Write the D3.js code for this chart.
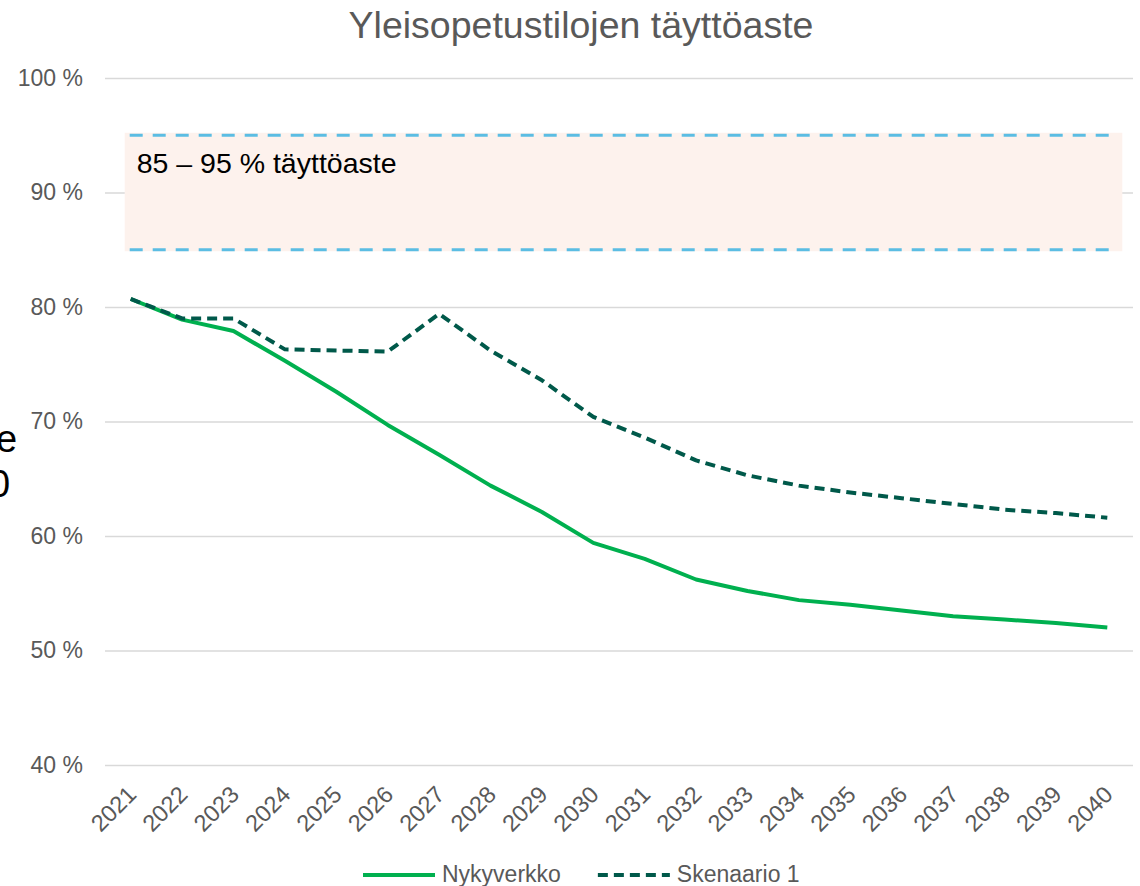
<!DOCTYPE html>
<html>
<head>
<meta charset="utf-8">
<script src="https://cdn.jsdelivr.net/npm/d3@7"></script>
<style>
	body { margin: 0; background: #fff; overflow: hidden; }
	svg { display: block; font-family: "Liberation Sans", Arial, sans-serif; }
</style>
</head>
<body>
<div id="chart"></div>
<script>
// values
var years = ["2021", "2022", "2023", "2024", "2025", "2026", "2027", "2028", "2029", "2030",
	"2031", "2032", "2033", "2034", "2035", "2036", "2037", "2038", "2039", "2040"];
var nykyverkko = [80.7, 78.9, 77.9, 75.3, 72.6, 69.7, 67.1, 64.4, 62.1, 59.4,
	58.0, 56.2, 55.2, 54.4, 54.0, 53.5, 53.0, 52.7, 52.4, 52.0];
var skenaario1 = [80.7, 79.0, 79.0, 76.3, 76.2, 76.1, 79.4, 76.2, 73.6, 70.4,
	68.6, 66.6, 65.3, 64.4, 63.8, 63.3, 62.8, 62.3, 62.0, 61.6];
var yTicks = [40, 50, 60, 70, 80, 90, 100];
var targetBand = [85, 95];
var targetLabel = "85 \u2013 95 % t\u00e4ytt\u00f6aste";
var seriesNames = ["Nykyverkko", "Skenaario 1"];
var chartTitle = "Yleisopetustilojen t\u00e4ytt\u00f6aste";

var width = 1140, height = 886,
	plotLeft = 105, plotRight = 1133, plotTop = 78, plotBottom = 765,
	greyText = "#595959";

var svg = d3.select("#chart").append("svg")
	.attr("width", width)
	.attr("height", height);

var x = d3.scaleBand().domain(years).range([plotLeft, plotRight]).paddingInner(0),
	y = d3.scaleLinear().domain([40, 100]).range([plotBottom, plotTop]);

function xc(d) {
	return x(d) + x.bandwidth() / 2;
}

// pieces of slide text that sit behind the chart, clipped by the left edge
svg.append("text").attr("x", -4).attr("y", 452)
	.style("font-size", "38px").style("fill", "#000").text("e");
svg.append("text").attr("x", -11).attr("y", 497)
	.style("font-size", "38px").style("fill", "#000").text("0");

// title
svg.append("text")
	.attr("x", 581).attr("y", 38)
	.attr("text-anchor", "middle")
	.style("font-size", "37.5px")
	.style("fill", greyText)
	.text(chartTitle);

// y gridlines + labels
var yAxis = svg.append("g")
	.attr("transform", "translate(" + plotLeft + ",0)")
	.call(d3.axisLeft(y).tickValues(yTicks)
		.tickSize(-(plotRight - plotLeft))
		.tickPadding(22)
		.tickFormat(function (d) { return d + " %"; }));
yAxis.select(".domain").remove();
yAxis.selectAll("line").attr("stroke", "#d9d9d9").attr("stroke-width", 1.6);
yAxis.selectAll("text")
	.style("font-family", "Liberation Sans, Arial, sans-serif")
	.style("font-size", "23px")
	.style("fill", greyText);

// target band 85-95 %
var bandX0 = xc(years[0]) - 6,
	bandX1 = xc(years[years.length - 1]) + 15;
svg.append("rect")
	.attr("x", bandX0)
	.attr("y", y(targetBand[1]) - 2.5)
	.attr("width", bandX1 - bandX0)
	.attr("height", y(targetBand[0]) - y(targetBand[1]) + 4)
	.style("fill", "#fdf2ed");

svg.selectAll("line.bandEdge")
	.data(targetBand)
	.enter()
	.append("line")
	.attr("class", "bandEdge")
	.attr("x1", xc(years[0]) - 1)
	.attr("x2", xc(years[years.length - 1]) + 2)
	.attr("y1", function (d) { return y(d); })
	.attr("y2", function (d) { return y(d); })
	.attr("stroke", "#5bbde3")
	.attr("stroke-width", 3.2)
	.attr("stroke-dasharray", "13,10");

svg.append("text")
	.attr("x", bandX0 + 12)
	.attr("y", y(90) - 20)
	.style("font-size", "28.5px")
	.style("fill", "#000")
	.text(targetLabel);

// x axis labels
var xAxis = svg.append("g")
	.attr("transform", "translate(0," + plotBottom + ")")
	.call(d3.axisBottom(x).tickSize(0));
xAxis.select(".domain").remove();
xAxis.selectAll("text")
	.attr("y", 0)
	.attr("dy", null)
	.attr("text-anchor", "end")
	.attr("transform", "translate(7,31) rotate(-45)")
	.style("font-family", "Liberation Sans, Arial, sans-serif")
	.style("font-size", "23.5px")
	.style("fill", greyText);

// series lines
var line = d3.line()
	.x(function (d, i) { return xc(years[i]); })
	.y(function (d) { return y(d); });

var series = [
	{ name: seriesNames[0], values: nykyverkko, color: "#00b04f", dash: null },
	{ name: seriesNames[1], values: skenaario1, color: "#00594a", dash: "10,6" }
];

series.forEach(function (s) {
	svg.append("path")
		.datum(s.values)
		.attr("d", line)
		.attr("fill", "none")
		.attr("stroke", s.color)
		.attr("stroke-width", 4)
		.attr("stroke-linejoin", "round")
		.attr("stroke-dasharray", s.dash);
});

// legend at the bottom
var legendY = 875,
	legendSwatch = 72;
var legend = svg.append("g");
var legendX = 363;
series.forEach(function (s) {
	var item = legend.append("g").attr("transform", "translate(" + legendX + ",0)");
	item.append("line")
		.attr("x1", 0).attr("x2", legendSwatch)
		.attr("y1", legendY).attr("y2", legendY)
		.attr("stroke", s.color)
		.attr("stroke-width", 4)
		.attr("stroke-dasharray", s.dash);
	var t = item.append("text")
		.attr("x", legendSwatch + 7)
		.attr("y", legendY + 7)
		.style("font-size", "23px")
		.style("fill", greyText)
		.text(s.name);
	legendX += legendSwatch + 7 + t.node().getComputedTextLength() + 37;
});
</script>
</body>
</html>
